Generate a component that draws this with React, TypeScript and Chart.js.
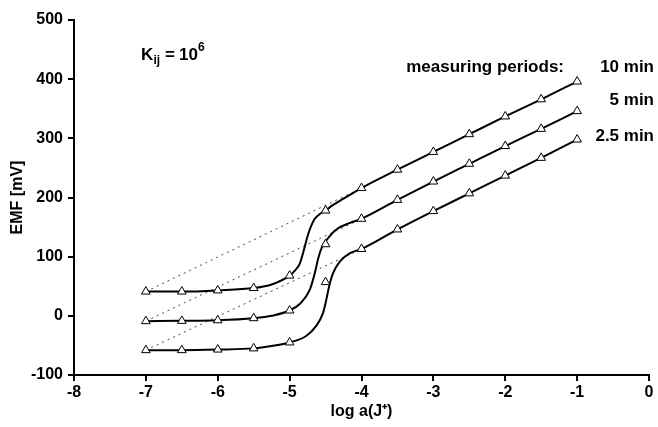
import React, { useEffect, useRef } from 'react';
import { Chart, registerables } from 'chart.js';

Chart.register(...registerables);

// Measured points (triangles)
const markerX = [-7, -6.5, -6, -5.5, -5, -4.5, -4, -3.5, -3, -2.5, -2, -1.5, -1];
const emf10 = [41, 41, 43, 47, 68, 178, 216, 247, 277, 307, 337, 366, 396];
const emf5 = [-9, -8.5, -7.5, -4, 9, 121, 164, 196, 227, 257, 287, 316, 346];
const emf25 = [-58, -58, -57, -55, -45, 57, 113, 146, 177, 207, 237, 267, 298];

// Fitted curves
const curveX10 = [-7, -6.5, -6, -5.5, -5.25, -5, -4.93, -4.86, -4.8, -4.75, -4.7, -4.65, -4.58, -4.5, -4.4, -4.25, -4, -3.5, -3, -2.5, -2, -1.5, -1];
const curveY10 = [41, 41, 43, 47, 53, 68, 76, 88, 112, 135, 152, 164, 172, 178, 187, 198, 216, 247, 277, 307, 337, 366, 396];
const curveX5 = [-7, -6.5, -6, -5.5, -5.25, -5, -4.86, -4.72, -4.65, -4.6, -4.55, -4.48, -4.35, -4.16, -4, -3.5, -3, -2.5, -2, -1.5, -1];
const curveY5 = [-9, -8.5, -7.5, -4, 0, 9, 20, 44, 72, 98, 116, 129, 146, 157, 164, 196, 227, 257, 287, 316, 346];
const curveX25 = [-7, -6.5, -6, -5.5, -5.25, -5, -4.77, -4.63, -4.535, -4.49, -4.45, -4.4, -4.3, -4.16, -4, -3.5, -3, -2.5, -2, -1.5, -1];
const curveY25 = [-58, -58, -57, -55, -51, -45, -34, -17, 5, 27, 50, 71, 92, 106, 113, 146, 177, 207, 237, 267, 298];

// Dotted extrapolations
const dottedX = [-7, -4];
const dotted10 = [41, 216];
const dotted5 = [-9, 164];
const dotted25 = [-58, 113];

const seriesLabels = ['10 min', '5 min', '2.5 min'];
const xTitle = 'log a(J\u207A)';
const yTitle = 'EMF [mV]';

const FONT = '"Liberation Sans", Arial, Helvetica, sans-serif';

const pts = (xs: number[], ys: number[]) => xs.map((x, i) => ({ x, y: ys[i] }));

const annotations = {
  id: 'annotations',
  afterDraw(chart: any) {
    const ctx = chart.ctx as CanvasRenderingContext2D;
    ctx.save();
    ctx.fillStyle = '#000';
    ctx.textBaseline = 'alphabetic';
    ctx.textAlign = 'left';
    // K_ij = 10^6
    ctx.font = `bold 17px ${FONT}`;
    ctx.fillText('K', 141, 60);
    ctx.font = `bold 12px ${FONT}`;
    ctx.fillText('ij', 153.5, 64);
    ctx.font = `bold 17px ${FONT}`;
    ctx.fillText('=', 165, 60);
    ctx.fillText('10', 179, 60);
    ctx.font = `bold 12px ${FONT}`;
    ctx.fillText('6', 198, 51);
    // legend-like labels
    ctx.font = `bold 17px ${FONT}`;
    ctx.textAlign = 'right';
    ctx.fillText('measuring periods:', 564, 72);
    ctx.fillText(seriesLabels[0], 654, 72);
    ctx.fillText(seriesLabels[1], 654, 105);
    ctx.fillText(seriesLabels[2], 654, 141);
    ctx.restore();
  },
};

export default function App() {
  const ref = useRef<HTMLCanvasElement>(null);
  useEffect(() => {
    document.body.style.margin = '0';
    const canvas = ref.current;
    if (!canvas) return;
    const markerDs = (data: number[]) => ({
      type: 'scatter' as const,
      data: pts(markerX, data),
      showLine: false,
      pointStyle: 'triangle',
      pointRadius: 5,
      pointBackgroundColor: '#fff',
      pointBorderColor: '#000',
      pointBorderWidth: 1,
      order: 0,
    });
    const curveDs = (xs: number[], ys: number[]) => ({
      type: 'line' as const,
      data: pts(xs, ys),
      borderColor: '#000',
      borderWidth: 2,
      pointRadius: 0,
      cubicInterpolationMode: 'monotone' as const,
      fill: false,
      order: 1,
    });
    const dottedDs = (ys: number[]) => ({
      type: 'line' as const,
      data: pts(dottedX, ys),
      borderColor: '#444',
      borderWidth: 1,
      borderDash: [2, 4],
      pointRadius: 0,
      fill: false,
      order: 2,
    });
    const tickFont = { family: FONT, size: 16, weight: 'bold' as const };
    const chart = new Chart(canvas, {
      type: 'scatter',
      data: {
        datasets: [
          markerDs(emf10),
          markerDs(emf5),
          markerDs(emf25),
          curveDs(curveX10, curveY10),
          curveDs(curveX5, curveY5),
          curveDs(curveX25, curveY25),
          dottedDs(dotted10),
          dottedDs(dotted5),
          dottedDs(dotted25),
        ] as any,
      },
      options: {
        animation: false,
        responsive: false,
        maintainAspectRatio: false,
        layout: { padding: { left: 0, top: 20, right: 9, bottom: 0 } },
        plugins: { legend: { display: false }, tooltip: { enabled: false } },
        scales: {
          x: {
            type: 'linear',
            min: -8,
            max: 0,
            ticks: { stepSize: 1, color: '#000', font: tickFont, padding: 2 },
            grid: { display: true, drawOnChartArea: false, drawTicks: true, tickLength: 6, color: '#000', lineWidth: 2 },
            border: { display: true, color: '#000', width: 2 },
            title: { display: true, text: xTitle, color: '#000', font: tickFont, padding: { top: 0, bottom: 6 } },
            afterFit: (s: any) => { s.height = 52; },
          },
          y: {
            type: 'linear',
            min: -100,
            max: 500,
            ticks: { stepSize: 100, color: '#000', font: tickFont, padding: 5 },
            grid: { display: true, drawOnChartArea: false, drawTicks: true, tickLength: 6, color: '#000', lineWidth: 2 },
            border: { display: true, color: '#000', width: 2 },
            title: { display: true, text: yTitle, color: '#000', font: tickFont, padding: { top: 8, bottom: 0 } },
            afterFit: (s: any) => { s.width = 74; },
          },
        },
      } as any,
      plugins: [annotations],
    });
    return () => chart.destroy();
  }, []);
  return (
    <div style={{ width: 658, height: 427 }}>
      <canvas ref={ref} width={658} height={427} style={{ display: 'block' }} />
    </div>
  );
}
